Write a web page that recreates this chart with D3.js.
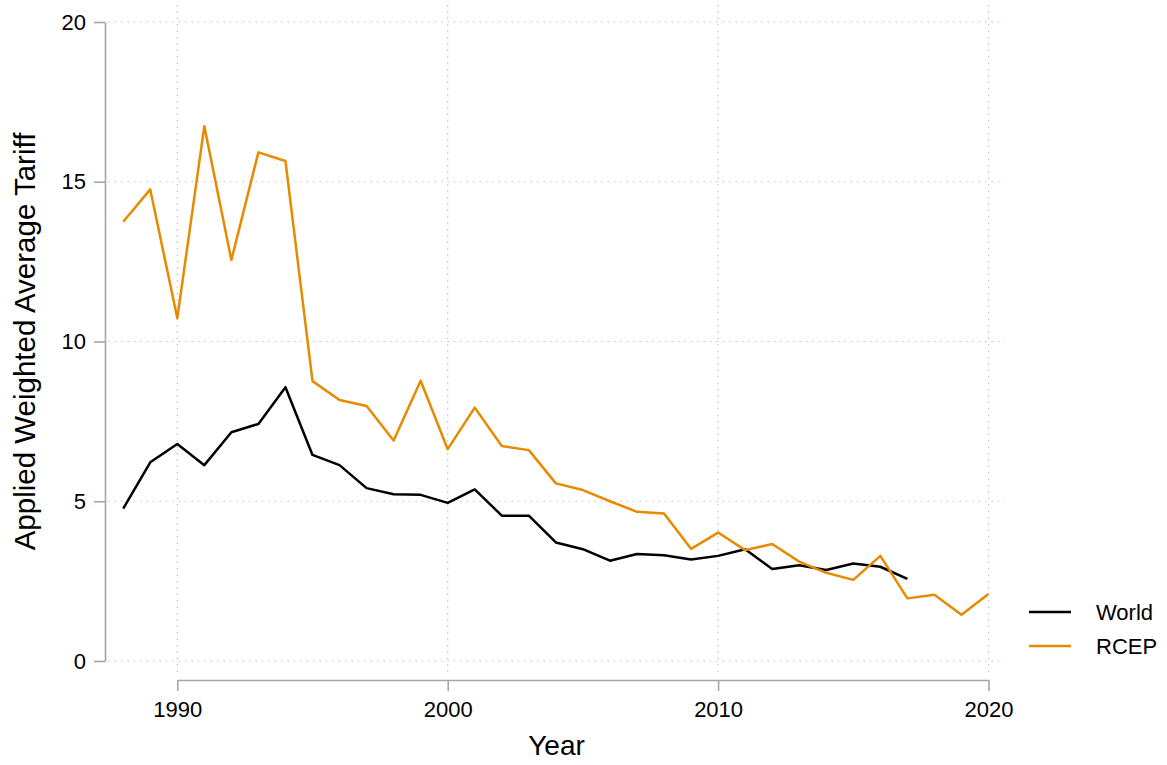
<!DOCTYPE html>

<html>

	<head>

		<script src = "https://cdn.jsdelivr.net/npm/d3@7"></script>
		<style type="text/css">
			body { margin: 0; background: #fff; }
			text { font-family: "Liberation Sans", Arial, sans-serif; fill: #000; }
			.axis path, .axis line { stroke: #a6a6a6; stroke-width: 1.6; }
			.grid line { stroke: #b3b3b3; stroke-width: 1.2; stroke-dasharray: 1.2,5.2; }
		</style>

	</head>


	<body>

		<script>

			// data
			var years = d3.range(1988, 2021);
			var rcep = [13.75, 14.76, 10.73, 16.74, 12.55, 15.92, 15.65, 8.76, 8.17, 7.98, 6.90, 8.77,
				6.63, 7.93, 6.73, 6.60, 5.56, 5.35, 5.00, 4.67, 4.62, 3.51, 4.02, 3.47, 3.66, 3.11,
				2.76, 2.54, 3.29, 1.96, 2.07, 1.45, 2.10];
			var world = [4.77, 6.22, 6.79, 6.13, 7.16, 7.42, 8.57, 6.45, 6.13, 5.41, 5.22, 5.20,
				4.95, 5.37, 4.55, 4.55, 3.71, 3.50, 3.14, 3.35, 3.31, 3.18, 3.29, 3.50, 2.88, 3.00,
				2.85, 3.05, 2.95, 2.57];
			var seriesNames = ["World", "RCEP"];
			var seriesColors = ["#000000", "#e68a00"];
			var xTicks = [1990, 2000, 2010, 2020];
			var yTicks = [0, 5, 10, 15, 20];

			var canvas = d3.select("body").append("svg")
				.attr("width", 1167)
				.attr("height", 765)

			var x = d3.scaleLinear().domain([1990, 2020]).range([177.3, 988.5]);
			var y = d3.scaleLinear().domain([0, 20]).range([661, 22]);
			var panelX = [1987.45, 2020.6];

			// dotted grid
			var grid = canvas.append("g").attr("class", "grid");
			grid.selectAll(".h")
				.data(yTicks)
				.enter()
				.append("line")
				.attr("x1", x(panelX[0])).attr("x2", x(panelX[1]))
				.attr("y1", function (d) { return y(d); })
				.attr("y2", function (d) { return y(d); });
			grid.selectAll(".v")
				.data(xTicks)
				.enter()
				.append("line")
				.attr("y1", y(20.53)).attr("y2", y(-0.35))
				.attr("x1", function (d) { return x(d); })
				.attr("x2", function (d) { return x(d); });

			// axes
			var yAxis = canvas.append("g")
				.attr("class", "axis")
				.attr("transform", "translate(105,0)")
				.call(d3.axisLeft(y).tickValues(yTicks).tickSize(11).tickSizeOuter(0).tickPadding(8));
			var xAxis = canvas.append("g")
				.attr("class", "axis")
				.attr("transform", "translate(0,680)")
				.call(d3.axisBottom(x).tickValues(xTicks).tickFormat(d3.format("d")).tickSize(11).tickSizeOuter(0).tickPadding(10));
			canvas.selectAll(".axis .tick text")
				.style("font-size", "22px");

			canvas.append("text")
				.attr("x", x((panelX[0] + panelX[1]) / 2))
				.attr("y", 755)
				.attr("text-anchor", "middle")
				.style("font-size", "28px")
				.text("Year");
			canvas.append("text")
				.attr("transform", "translate(35," + y(10) + ") rotate(-90)")
				.attr("text-anchor", "middle")
				.style("font-size", "29.5px")
				.text("Applied Weighted Average Tariff");

			// lines
			var line = d3.line()
				.x(function (d, i) { return x(years[i]); })
				.y(function (d) { return y(d); });

			var lines = [world, rcep];
			canvas.selectAll(".series")
				.data(lines)
				.enter()
				.append("path")
				.attr("class", "series")
				.attr("d", line)
				.attr("fill", "none")
				.attr("stroke-width", 2.5)
				.attr("stroke-linejoin", "round")
				.attr("stroke", function (d, i) { return seriesColors[i]; });

			// legend
			var legend = canvas.selectAll(".legend")
				.data(seriesNames)
				.enter()
				.append("g")
				.attr("class", "legend")
				.attr("transform", function (d, i) { return "translate(1029," + (612 + i * 34) + ")"; });
			legend.append("line")
				.attr("x1", 0).attr("x2", 42)
				.attr("stroke-width", 2.5)
				.attr("stroke", function (d, i) { return seriesColors[i]; });
			legend.append("text")
				.attr("x", 67)
				.attr("dy", "0.35em")
				.style("font-size", "22px")
				.text(function (d) { return d; });

		</script>

	</body>

</html>
